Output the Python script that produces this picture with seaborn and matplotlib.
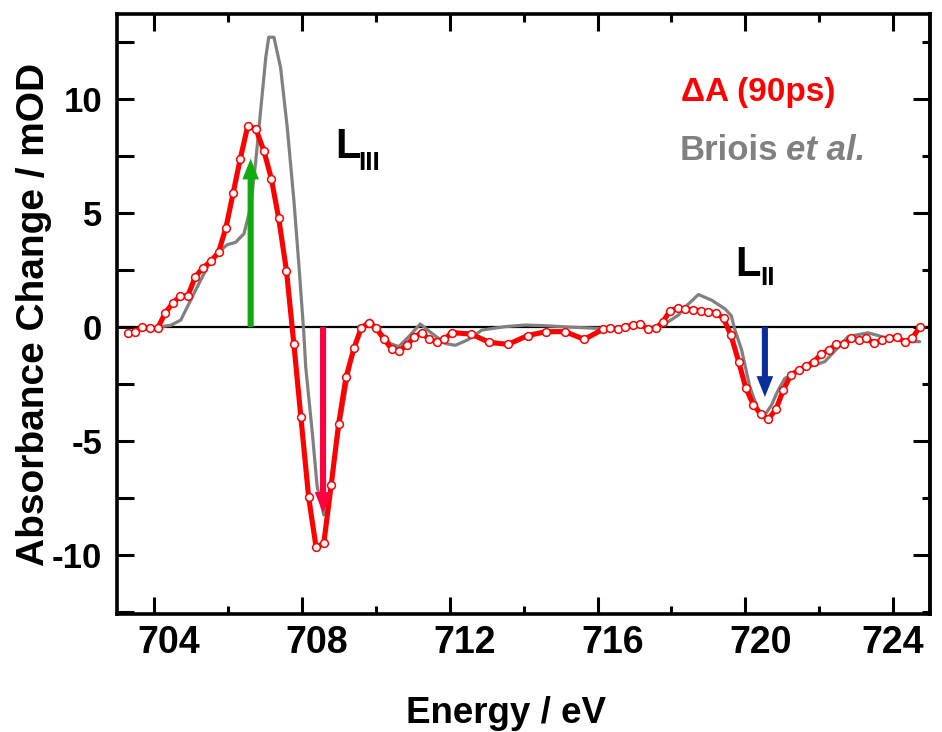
import numpy as np
import pandas as pd
import matplotlib
matplotlib.use("Agg")
import matplotlib.pyplot as plt
from matplotlib.ticker import MultipleLocator, FuncFormatter
from matplotlib.transforms import ScaledTranslation
import seaborn as sns

# Transient difference spectrum, Delta A at 90 ps (energy in eV, mOD)
delta_energy = [
    703.30, 703.48, 703.68, 703.89, 704.09, 704.30, 704.51, 704.71, 704.91, 705.11,
    705.32, 705.53, 705.74, 705.94, 706.14, 706.33, 706.53, 706.75, 706.97, 707.17,
    707.37, 707.58, 707.78, 707.97, 708.18, 708.38, 708.59, 708.79, 708.99, 709.19,
    709.41, 709.60, 709.81, 710.01, 710.22, 710.43, 710.63, 710.84, 711.04, 711.24,
    711.44, 711.65, 711.85, 712.05, 712.58, 713.07, 713.58, 714.11, 714.61, 715.12,
    715.64, 716.14, 716.35, 716.55, 716.74, 716.95, 717.15, 717.36, 717.57, 717.77,
    717.96, 718.17, 718.38, 718.58, 718.79, 718.99, 719.20, 719.41, 719.61, 719.82,
    720.01, 720.22, 720.42, 720.62, 720.83, 721.03, 721.23, 721.44, 721.65, 721.85,
    722.06, 722.26, 722.46, 722.67, 722.87, 723.08, 723.27, 723.49, 723.69, 723.89,
    724.11, 724.31, 724.51, 724.72,
]
delta_absorbance = [
    -0.26, -0.23, 0.00, -0.06, -0.06, 0.63, 1.07, 1.37, 1.37, 2.21,
    2.60, 2.89, 3.28, 4.36, 5.91, 7.40, 8.82, 8.71, 7.73, 6.52,
    4.77, 2.47, -0.75, -3.96, -7.47, -9.66, -9.49, -6.94, -4.27, -2.21,
    -0.91, -0.06, 0.16, -0.06, -0.53, -0.96, -1.07, -0.78, -0.44, -0.24,
    -0.54, -0.64, -0.54, -0.24, -0.31, -0.67, -0.76, -0.37, -0.20, -0.20,
    -0.54, -0.10, -0.06, -0.10, 0.00, 0.10, 0.13, -0.08, -0.06, 0.23,
    0.72, 0.82, 0.79, 0.76, 0.72, 0.67, 0.63, 0.38, -0.35, -1.52,
    -2.66, -3.42, -3.83, -4.05, -3.61, -2.76, -2.11, -1.89, -1.71, -1.52,
    -1.18, -1.01, -0.76, -0.75, -0.50, -0.57, -0.50, -0.72, -0.57, -0.47,
    -0.45, -0.64, -0.50, -0.01,
]

# Reference difference spectrum (Briois et al.)
briois_energy = [
    704.10, 704.45, 704.72, 705.08, 705.44, 705.80, 705.98, 706.20, 706.43, 706.61,
    706.75, 706.88, 707.02, 707.10, 707.24, 707.42, 707.60, 707.78, 707.92, 708.05,
    708.10, 708.28, 708.41, 708.59, 708.73, 708.91, 709.14, 709.36, 709.59, 709.85,
    710.12, 710.39, 710.62, 710.89, 711.20, 711.52, 711.88, 712.15, 712.50, 712.87,
    713.50, 714.04, 714.60, 715.12, 716.03, 716.50, 717.00, 717.40, 717.73, 718.19,
    718.45, 718.73, 719.09, 719.45, 719.62, 719.72, 719.90, 720.12, 720.35, 720.53,
    720.71, 720.88, 721.07, 721.61, 722.15, 722.45, 722.78, 723.32, 723.77, 724.41,
    724.72,
]
briois_absorbance = [
    0.00, 0.08, 0.31, 1.49, 2.64, 3.38, 3.62, 3.72, 4.10, 5.28,
    7.32, 9.50, 11.85, 12.73, 12.73, 11.40, 8.78, 5.57, 2.64, -0.28,
    -1.74, -4.66, -7.00, -8.25, -7.59, -5.39, -3.20, -1.16, 0.01, 0.31,
    -0.20, -0.72, -0.86, -0.42, 0.14, -0.28, -0.72, -0.80, -0.55, -0.13,
    0.02, 0.09, 0.06, 0.01, -0.06, -0.05, 0.05, -0.02, 0.04, 0.53,
    1.00, 1.43, 1.18, 0.80, 0.50, -0.13, -1.00, -2.62, -3.64, -3.86,
    -3.42, -2.80, -2.25, -1.81, -1.52, -1.00, -0.42, -0.25, -0.45, -0.64,
    -0.64,
]

# Arrows marking the edge features: (energy, tail value, tip value, colour)
arrow_energy = [706.61, 708.57, 720.53]
arrow_tail = [0.0, 0.0, 0.0]
arrow_tip = [7.4, -8.16, -3.07]
arrow_colors = ["#11aa11", "#ff0040", "#0a2f9c"]

x_ticks = [704, 708, 712, 716, 720, 724]
y_ticks = [-10, -5, 0, 5, 10]

delta_df = pd.DataFrame({"energy": delta_energy, "absorbance": delta_absorbance})
briois_df = pd.DataFrame({"energy": briois_energy, "absorbance": briois_absorbance})

sns.set_theme(style="white")
plt.rcParams["font.family"] = ["Liberation Sans", "DejaVu Sans"]
plt.rcParams["font.weight"] = "bold"
plt.rcParams["axes.labelweight"] = "bold"
plt.rcParams["text.color"] = "black"
plt.rcParams["axes.labelcolor"] = "black"
plt.rcParams["xtick.color"] = "black"
plt.rcParams["ytick.color"] = "black"

fig = plt.figure(figsize=(9.42, 7.32), dpi=100)
ax = fig.add_axes([0.1245, 0.1612, 0.8628, 0.8197])

ax.axhline(0, color="black", lw=1.6, zorder=1)

sns.lineplot(data=briois_df, x="energy", y="absorbance", ax=ax, color="#808080",
             lw=2.3, sort=False, estimator=None, zorder=2)
sns.lineplot(data=delta_df, x="energy", y="absorbance", ax=ax, color="#ff0000",
             lw=3.7, sort=False, estimator=None, marker="o", markersize=5.6,
             markerfacecolor="white", markeredgecolor="#ff0000",
             markeredgewidth=1.1, zorder=3)

for xe, y0, y1, c in zip(arrow_energy, arrow_tail, arrow_tip, arrow_colors):
    ax.annotate("", xy=(xe, y1), xytext=(xe, y0),
                arrowprops=dict(arrowstyle="simple,head_length=0.75,head_width=0.6,tail_width=0.22",
                                color=c, lw=0, shrinkA=0, shrinkB=0, mutation_scale=20),
                zorder=4)

ax.set_xlim(703, 725)
ax.set_ylim(-12.6, 13.75)

# Axis frame and ticks
for s in ax.spines.values():
    s.set_linewidth(2.6)
    s.set_color("black")

ax.set_xticks(x_ticks)
ax.xaxis.set_minor_locator(MultipleLocator(2))
ax.yaxis.set_major_locator(MultipleLocator(2.5))
ax.yaxis.set_major_formatter(FuncFormatter(
    lambda v, p: f"{int(round(v))}" if abs(v / 5 - round(v / 5)) < 1e-6 and int(round(v)) in y_ticks else ""))

ax.tick_params(axis="x", which="major", direction="in", length=12, width=2.2,
               top=True, bottom=True, labelsize=27, pad=8, labelcolor="black")
ax.tick_params(axis="x", which="minor", direction="in", length=6, width=2.2,
               top=True, bottom=True)
ax.tick_params(axis="y", which="major", direction="in", length=12, width=2.2,
               left=True, right=False, labelsize=25, pad=11, labelcolor="black")

# Right-hand axis: long ticks every 5, short ticks in between
sec = ax.secondary_yaxis("right")
sec.yaxis.set_major_locator(MultipleLocator(5))
sec.yaxis.set_minor_locator(MultipleLocator(2.5))
sec.tick_params(which="major", direction="in", length=12, width=2.2, labelright=False)
sec.tick_params(which="minor", direction="in", length=6, width=2.2)
sec.spines["right"].set_linewidth(2.6)

for lab in ax.get_xticklabels() + ax.get_yticklabels():
    lab.set_fontweight("bold")

# Energy labels sit slightly right of their ticks, except the last one
shift = ScaledTranslation(0.15, 0, fig.dpi_scale_trans)
for tick in ax.xaxis.get_major_ticks()[:-1]:
    tick.label1.set_transform(tick.label1.get_transform() + shift)

ax.set_xlabel("Energy / eV", fontsize=26.5, fontweight="bold", color="black")
ax.set_ylabel("Absorbance Change / mOD", fontsize=28, fontweight="bold", color="black")
ax.xaxis.set_label_coords(0.478, -0.137)
ax.yaxis.set_label_coords(-0.080, 0.50)

# Edge labels
ax.text(708.89, 7.41, "L", fontsize=30, fontweight="bold", color="black",
        ha="left", va="baseline")
ax.text(709.52, 6.90, "III", fontsize=19, fontweight="bold", color="black",
        ha="left", va="baseline")
ax.text(719.73, 2.24, "L", fontsize=30, fontweight="bold", color="black",
        ha="left", va="baseline")
ax.text(720.41, 1.84, "II", fontsize=19, fontweight="bold", color="black",
        ha="left", va="baseline")

# Series labels
ax.text(720.35, 10.3, "\u0394A (90ps)", fontsize=24, fontweight="bold",
        color="#ff0000", ha="center", va="center")
ax.text(720.89, 7.76, "Briois", fontsize=25, fontweight="bold",
        color="#808080", ha="right", va="center")
ax.text(721.11, 7.76, "et al.", fontsize=25, fontweight="bold", fontstyle="italic",
        color="#808080", ha="left", va="center")

fig.savefig("out.png", dpi=100)
